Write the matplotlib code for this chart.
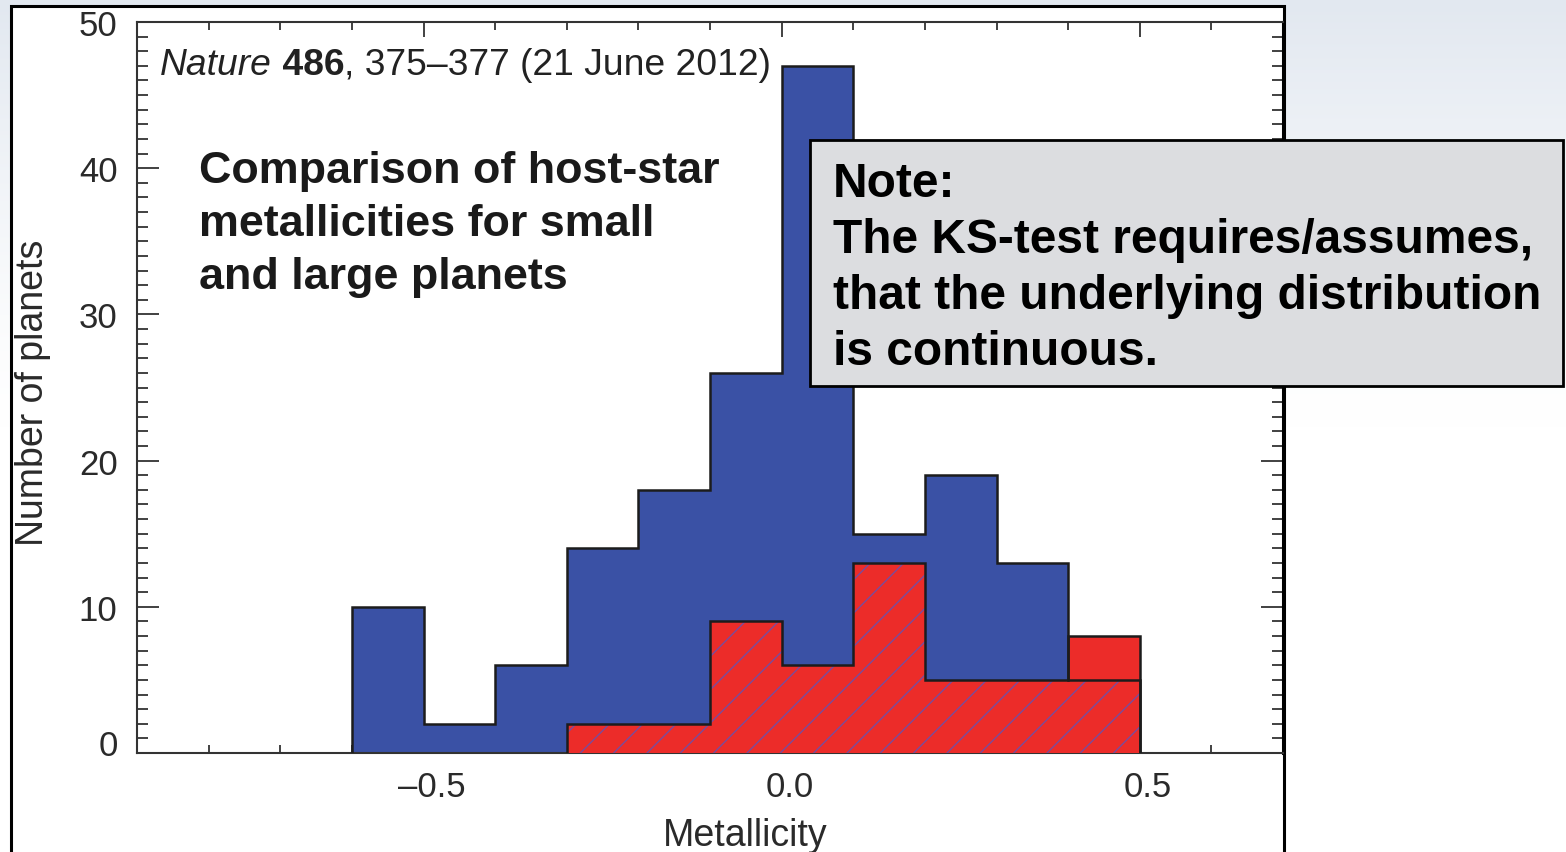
import numpy as np
import matplotlib
matplotlib.use("Agg")
import matplotlib.pyplot as plt
from matplotlib.patches import Rectangle
from matplotlib.ticker import FixedLocator, MultipleLocator, FuncFormatter
from matplotlib.transforms import ScaledTranslation

# Histogram of host-star metallicities (bin width 0.1 dex)
bin_edges = [-0.6, -0.5, -0.4, -0.3, -0.2, -0.1, 0.0, 0.1, 0.2, 0.3, 0.4, 0.5]
small_planets = [10, 2, 6, 14, 18, 26, 47, 15, 19, 13, 5]
large_planets = [0, 0, 0, 2, 2, 9, 6, 13, 5, 5, 8]

x_ticks = [-0.5, 0.0, 0.5]
y_ticks = [0, 10, 20, 30, 40, 50]

citation = ["Nature", " 486", ", 375\u2013377 (21 June 2012)"]
title_lines = ["Comparison of host-star", "metallicities for small", "and large planets"]
note_lines = ["Note:", "The KS-test requires/assumes,",
              "that the underlying distribution", "is continuous."]

plt.rcParams["font.family"] = ["Liberation Sans", "DejaVu Sans"]
plt.rcParams["hatch.linewidth"] = 1.0

W, H = 1566, 853
fig = plt.figure(figsize=(W / 100, H / 100), dpi=100)


def fx(px):
    return px / W


def fy(py):
    return 1 - py / H


# pale backdrop fading to white
bg = fig.add_axes([0, 0, 1, 1], zorder=-10)
bg.axis("off")
t = np.linspace(0, 1, 300)[:, None]
a = np.clip(1 - t / 0.5, 0, 1) ** 1.3
top = np.array([226, 232, 240]) / 255.0
grad = (1 - a)[..., None] * 1.0 + a[..., None] * top[None, None, :]
bg.imshow(grad, aspect="auto", extent=[0, 1, 0, 1])

# white figure panel with black frame
fig.add_artist(Rectangle((fx(11), -0.05), fx(1284) - fx(11), fy(7) + 0.05,
                         transform=fig.transFigure, facecolor="white",
                         edgecolor="black", lw=2.2, zorder=-5))

ax = fig.add_axes([fx(137), fy(754), fx(1283) - fx(137), fy(23) - fy(754)])
ax.set_facecolor("white")

blue = "#3a51a5"
red = "#ec2c29"
hatch_col = "#7a4c9c"
outline = "#1c1c1c"

edges = np.array(bin_edges)
small = np.array(small_planets)
large = np.array(large_planets)
start = int(np.argmax(large > 0))
overlap = np.minimum(small, large)

ax.stairs(small, edges, fill=True, facecolor=blue, lw=0, zorder=2)
ax.stairs(large[start:], edges[start:], fill=True, facecolor=red, lw=0, zorder=3)
ax.stairs(overlap[start:], edges[start:], fill=True, facecolor="none",
          edgecolor=hatch_col, hatch="/", lw=0, zorder=4)
ax.stairs(small, edges, fill=False, baseline=0, color=outline, lw=1.8, zorder=5)
ax.stairs(large[start:], edges[start:], fill=False, baseline=0, color=outline,
          lw=1.8, zorder=6)

ax.set_xlim(-0.9, 0.7)
ax.set_ylim(0, 50)
ax.xaxis.set_major_locator(FixedLocator(x_ticks))
ax.xaxis.set_minor_locator(MultipleLocator(0.1))
ax.yaxis.set_major_locator(FixedLocator(y_ticks))
ax.yaxis.set_minor_locator(MultipleLocator(1))
ax.xaxis.set_major_formatter(
    FuncFormatter(lambda v, _: ("%.1f" % (0.0 if abs(v) < 1e-9 else v)).replace("-", "\u2013")))

ax.tick_params(which="both", direction="in", top=True, right=True,
               color="#333333", width=1.3, labelsize=25, labelcolor="#2a2a2a")
ax.tick_params(axis="y", which="major", length=16, pad=14)
ax.tick_params(axis="y", which="minor", length=8)
ax.tick_params(axis="x", which="major", length=11, pad=12)
ax.tick_params(axis="x", which="minor", length=6)

for s in ["left", "bottom", "top"]:
    ax.spines[s].set_color("#333333")
    ax.spines[s].set_linewidth(1.5)
ax.spines["right"].set_color("black")
ax.spines["right"].set_linewidth(2.2)

ax.set_ylabel("Number of planets", fontsize=27, color="#2a2a2a")
ax.yaxis.set_label_coords((51 - 137) / 1146, (754 - 393) / 731)
ax.set_xlabel("Metallicity", fontsize=27, color="#2a2a2a")
ax.xaxis.set_label_coords((745 - 137) / 1146, (754 - 818) / 731)

# nudge tick labels the way they sit in the printed figure
yt = ax.yaxis.get_major_ticks()
yt[0].label1.set_transform(yt[0].label1.get_transform()
                           + ScaledTranslation(0, 0.11, fig.dpi_scale_trans))
for tk in ax.xaxis.get_major_ticks():
    tk.label1.set_transform(tk.label1.get_transform()
                            + ScaledTranslation(0.08, 0, fig.dpi_scale_trans))

# citation line with mixed styles
styles = [dict(style="italic"), dict(weight="bold"), dict()]
x = 160
fig.canvas.draw()
renderer = fig.canvas.get_renderer()
for txt, st in zip(citation, styles):
    tobj = fig.text(fx(x), fy(75), txt, fontsize=26.8, color="#222222",
                    va="baseline", ha="left", **st)
    x += tobj.get_window_extent(renderer).width

for i, line in enumerate(title_lines):
    fig.text(fx(199), fy(183 + 53 * i), line, fontsize=32.3, weight="bold",
             color="#1a1a1a", va="baseline", ha="left")

# note box
fig.add_artist(Rectangle((fx(810), fy(387)), fx(1563) - fx(810), fy(141) - fy(387),
                         transform=fig.transFigure, facecolor="#dcdde0",
                         edgecolor="black", lw=2, zorder=10))
for i, line in enumerate(note_lines):
    fig.text(fx(833), fy(197 + 56 * i), line, fontsize=34.5, weight="bold",
             color="black", va="baseline", ha="left", zorder=11)

fig.savefig("out.png", dpi=100)
